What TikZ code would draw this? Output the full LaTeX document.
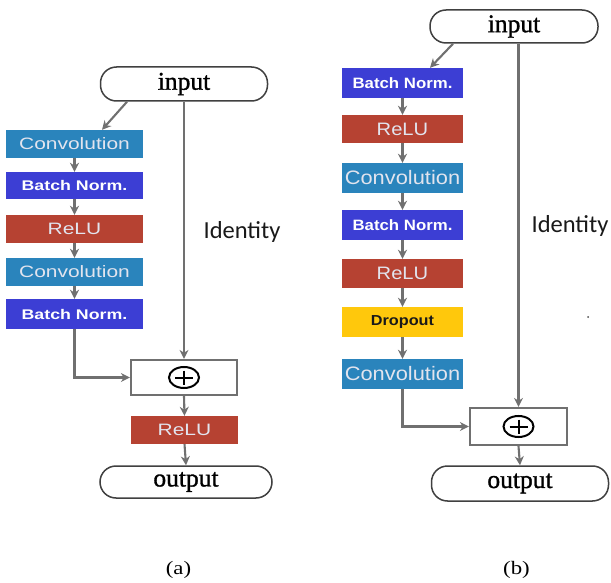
\documentclass[tikz,border=0pt]{standalone}
\usepackage{graphicx}
\usepackage{fontspec}
\setmainfont{Liberation Serif}
\setsansfont{Liberation Sans}
\newfontfamily\calib{Carlito}
\newfontfamily\ioserif[FakeBold=1.2]{Liberation Serif}
\usetikzlibrary{arrows.meta,calc}
\definecolor{convc}{RGB}{42,132,188}
\definecolor{bnc}{RGB}{60,62,212}
\definecolor{reluc}{RGB}{182,66,50}
\definecolor{dropc}{RGB}{255,200,12}
\definecolor{txtc}{RGB}{226,228,238}
\definecolor{linec}{RGB}{112,112,112}
\newcommand\stra[1]{\scalebox{1.27}[1]{#1}}
\newcommand\strb[1]{\scalebox{1.12}[1]{#1}}
\tikzset{
  layer/.style={inner sep=0pt, text=txtc, font=\sffamily},
  laya/.style={layer, minimum width=137pt},
  layb/.style={layer, minimum width=121pt},
  io/.style={draw=black!75, line width=1.5pt, rounded corners=16pt, inner sep=0pt,
     font=\ioserif\fontsize{25.5}{28}\selectfont},
  sumbox/.style={draw=linec, line width=2.2pt, inner sep=0pt, fill=white},
  conn/.style={draw=linec, line width=2.1pt, -{Stealth[length=9pt,width=9pt]}},
  idtxt/.style={font=\calib\fontsize{24.5}{26}\selectfont, text=black!90, anchor=base, inner sep=0pt},
  captxt/.style={font=\fontsize{19}{21}\selectfont, inner sep=0pt}
}
\newcommand\oplusmark[1]{%
  \draw[line width=2pt, black] (#1) ellipse [x radius=15pt, y radius=10.5pt];
  \draw[line width=2pt, black] ($(#1)+(-9,0)$) -- ($(#1)+(9,0)$);
  \draw[line width=2pt, black] ($(#1)+(0,-7)$) -- ($(#1)+(0,7)$);
}
\begin{document}
\begin{tikzpicture}[x=1pt,y=-1pt]
\useasboundingbox[fill=white] (0,0) rectangle (611,583);
% ---------- panel (a)
\node[io, minimum width=167pt, minimum height=34pt] (in) at (184,84) {input};
\node[laya, fill=convc, minimum height=28pt] (c1) at (74.5,144) {\stra{\fontsize{16.5}{18}\selectfont Convolution}};
\node[laya, fill=bnc, text=white, minimum height=27pt] (b1) at (74.5,185.5) {\stra{\fontsize{14}{16}\selectfont\bfseries Batch Norm.}};
\node[laya, fill=reluc, minimum height=28pt] (r1) at (74.5,229) {\stra{\fontsize{16.5}{18}\selectfont ReLU}};
\node[laya, fill=convc, minimum height=28pt] (c2) at (74.5,272) {\stra{\fontsize{16.5}{18}\selectfont Convolution}};
\node[laya, fill=bnc, text=white, minimum height=30pt] (b2) at (74.5,314) {\stra{\fontsize{14}{16}\selectfont\bfseries Batch Norm.}};
\node[sumbox, minimum width=106pt, minimum height=35pt] (p1) at (184,377.5) {};
\oplusmark{p1}
\node[layer, fill=reluc, minimum width=107pt, minimum height=28pt] (r2) at (184.5,430) {\stra{\fontsize{16.5}{18}\selectfont ReLU}};
\node[io, minimum width=172pt, minimum height=32pt] (out) at (186,482) {output};
\node[idtxt] (ida) at (242,238) {Identity};
\node[captxt] (capa) at (178.5,570) {\scalebox{1.2}[1]{(a)}};
\draw[conn] ($(in.south)+(-57,0)$) -- ($(c1.north)+(27.5,0)$);
\draw[conn] (c1) -- (b1);
\draw[conn] (b1) -- (r1);
\draw[conn] (r1) -- (c2);
\draw[conn] (c2) -- (b2);
\draw[conn] (in.south) -- (p1.north);
\draw[conn] (b2.south) |- (p1.west);
\draw[conn] (p1.south) -- (r2.north);
\draw[conn] (r2.south) -- (out.north);
% ---------- panel (b)
\node[io, minimum width=168pt, minimum height=33pt] (in2) at (514,26.5) {input};
\node[layb, fill=bnc, text=white, minimum height=30pt] (b3) at (402.5,83) {\strb{\fontsize{15}{17}\selectfont\bfseries Batch Norm.}};
\node[layb, fill=reluc, minimum height=28pt] (r3) at (402.5,129) {\strb{\fontsize{18}{20}\selectfont ReLU}};
\node[layb, fill=convc, minimum height=30pt] (c3) at (402.5,178) {\strb{\fontsize{19.5}{21}\selectfont Convolution}};
\node[layb, fill=bnc, text=white, minimum height=30pt] (b4) at (402.5,225) {\strb{\fontsize{15}{17}\selectfont\bfseries Batch Norm.}};
\node[layb, fill=reluc, minimum height=29pt] (r4) at (402.5,273.5) {\strb{\fontsize{18}{20}\selectfont ReLU}};
\node[layb, fill=dropc, text=black!90, minimum height=30pt] (d1) at (402.5,322) {\strb{\fontsize{14.5}{16}\selectfont\bfseries Dropout}};
\node[layb, fill=convc, minimum height=30pt] (c4) at (402.5,374) {\strb{\fontsize{19.5}{21}\selectfont Convolution}};
\node[sumbox, minimum width=97pt, minimum height=37pt] (p2) at (518.5,426.5) {};
\oplusmark{p2}
\node[io, minimum width=177pt, minimum height=35pt] (out2) at (520,483.5) {output};
\node[idtxt] (idb) at (570,233) {Identity};
\node[circle, fill=black!70, inner sep=0pt, minimum size=2pt] (dot) at (588,317) {};
\node[captxt] (capb) at (516.5,570) {\scalebox{1.2}[1]{(b)}};
\draw[conn] ($(in2.south)+(-61,0)$) -- ($(b3.north)+(27.5,0)$);
\draw[conn] (b3) -- (r3);
\draw[conn] (r3) -- (c3);
\draw[conn] (c3) -- (b4);
\draw[conn] (b4) -- (r4);
\draw[conn] (r4) -- (d1);
\draw[conn] (d1) -- (c4);
\draw[conn] (p2.north |- in2.south) -- (p2.north);
\draw[conn] (c4.south) |- (p2.west);
\draw[conn] (p2.south) -- (out2.north);
\end{tikzpicture}
\end{document}
